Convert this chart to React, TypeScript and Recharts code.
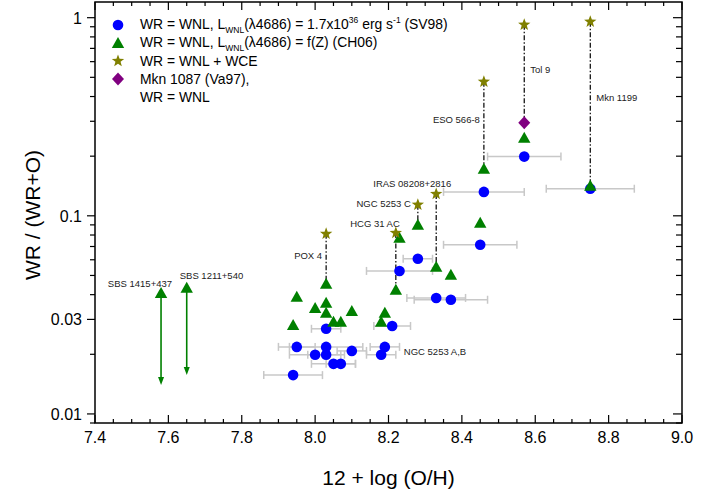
import React from 'react';
import { ScatterChart, Scatter, XAxis, YAxis, ReferenceLine } from 'recharts';

const FONT = '"Liberation Sans", Arial, Helvetica, sans-serif';

const BLUE = '#0000ff';
const GREEN = '#008000';
const OLIVE = '#808000';
const PURPLE = '#800080';
const ERR = '#c8c8c8';

// x = 12 + log(O/H), y = WR/(WR+O), err = x error
const sv98 = [
  { x: 8.03, y: 0.0269, err: 0.04 },
  { x: 7.95, y: 0.0218, err: 0.05 },
  { x: 8.03, y: 0.0218, err: 0.1 },
  { x: 8.0, y: 0.0199, err: 0.07 },
  { x: 8.03, y: 0.0199, err: 0.05 },
  { x: 8.1, y: 0.0208, err: 0.04 },
  { x: 8.19, y: 0.0218, err: 0.04 },
  { x: 8.18, y: 0.0199, err: 0.04 },
  { x: 8.05, y: 0.0179, err: 0.06 },
  { x: 8.07, y: 0.0179, err: 0.04 },
  { x: 7.94, y: 0.0157, err: 0.08 },
  { x: 8.21, y: 0.0278, err: 0.05 },
  { x: 8.45, y: 0.0714, err: 0.1 },
  { x: 8.28, y: 0.0607, err: 0.04 },
  { x: 8.23, y: 0.0527, err: 0.09 },
  { x: 8.33, y: 0.0385, err: 0.08 },
  { x: 8.37, y: 0.0377, err: 0.1 },
  { x: 8.57, y: 0.199, err: 0.1 },
  { x: 8.46, y: 0.132, err: 0.11 },
  { x: 8.75, y: 0.137, err: 0.12 },
];

const ch06 = [
  { x: 8.03, y: 0.0454 },
  { x: 7.95, y: 0.039 },
  { x: 8.03, y: 0.0364 },
  { x: 8.0, y: 0.0343 },
  { x: 8.03, y: 0.0324 },
  { x: 8.1, y: 0.0331 },
  { x: 8.05, y: 0.0292 },
  { x: 8.07, y: 0.0292 },
  { x: 7.94, y: 0.0281 },
  { x: 8.19, y: 0.0324 },
  { x: 8.18, y: 0.0292 },
  { x: 8.22, y: 0.0423 },
  { x: 8.23, y: 0.0774 },
  { x: 8.28, y: 0.0901 },
  { x: 8.33, y: 0.0553 },
  { x: 8.37, y: 0.0504 },
  { x: 8.45, y: 0.0922 },
  { x: 8.46, y: 0.173 },
  { x: 8.57, y: 0.248 },
  { x: 8.75, y: 0.142 },
];

// upper limits drawn as arrows down to `low`
const sbsLimits = [
  { name: 'SBS 1415+437', x: 7.58, y: 0.0408, low: 0.014 },
  { name: 'SBS 1211+540', x: 7.65, y: 0.0433, low: 0.0157 },
];

// WNL + WCE, linked to the WNL-only value `base`
const wce = [
  { name: 'POX 4', x: 8.03, y: 0.0811, base: 0.0454 },
  { name: 'HCG 31 AC', x: 8.22, y: 0.082, base: 0.0423 },
  { name: 'NGC 5253 C', x: 8.28, y: 0.1137, base: 0.0901 },
  { name: 'IRAS 08208+2816', x: 8.33, y: 0.129, base: 0.0553 },
  { name: 'ESO 566-8', x: 8.46, y: 0.475, base: 0.173 },
  { name: 'Tol 9', x: 8.57, y: 0.922, base: 0.295 },
  { name: 'Mkn 1199', x: 8.75, y: 0.955, base: 0.142 },
];

const va97 = [{ x: 8.57, y: 0.295 }];

const notes = [{ name: 'NGC 5253 A,B', x: 8.19, y: 0.0218 }];

const X_DOMAIN = [7.4, 9.0];
const Y_DOMAIN = [0.009, 1.2];

const xTicks = [
  7.4, 7.45, 7.5, 7.55, 7.6, 7.65, 7.7, 7.75, 7.8, 7.85, 7.9, 7.95, 8.0, 8.05, 8.1, 8.15, 8.2,
  8.25, 8.3, 8.35, 8.4, 8.45, 8.5, 8.55, 8.6, 8.65, 8.7, 8.75, 8.8, 8.85, 8.9, 8.95, 9.0,
];
const xLabelTicks = [7.4, 7.6, 7.8, 8.0, 8.2, 8.4, 8.6, 8.8, 9.0];
const yTicks = [
  0.009, 0.01, 0.02, 0.03, 0.04, 0.05, 0.06, 0.07, 0.08, 0.09, 0.1, 0.2, 0.3, 0.4, 0.5, 0.6, 0.7,
  0.8, 0.9, 1,
];
const yLabelTicks = [0.01, 0.03, 0.1, 1];

// where each annotation sits relative to its point (px)
const labelPos: Record<string, { dx: number; dy: number; anchor: string }> = {
  'SBS 1415+437': { dx: 11, dy: -6, anchor: 'end' },
  'SBS 1211+540': { dx: -7, dy: -9, anchor: 'start' },
  'POX 4': { dx: -4, dy: 25, anchor: 'end' },
  'HCG 31 AC': { dx: 4, dy: -6, anchor: 'end' },
  'NGC 5253 C': { dx: -7, dy: 2, anchor: 'end' },
  'IRAS 08208+2816': { dx: 15, dy: -7, anchor: 'end' },
  'ESO 566-8': { dx: -4, dy: 41, anchor: 'end' },
  'Tol 9': { dx: 6, dy: 48, anchor: 'start' },
  'Mkn 1199': { dx: 6, dy: 79, anchor: 'start' },
  'NGC 5253 A,B': { dx: 19, dy: 8, anchor: 'start' },
};

const annotations = [...sbsLimits, ...wce, ...notes].map(d => ({ name: d.name, x: d.x, y: d.y }));

const isIn = (arr: number[], v: number) => arr.some(t => Math.abs(t - v) < 1e-9);

const MARGIN = { top: 2, right: 40, bottom: 78, left: 95 };
const W = 722;
const H = 501;
const PW = W - MARGIN.left - MARGIN.right;
const PH = H - MARGIN.top - MARGIN.bottom;

// tick label anchors on the bottom and left edges
const bottomLabels = xLabelTicks.map(v => ({ x: v, y: Y_DOMAIN[0] }));
const leftLabels = yLabelTicks.map(v => ({ x: X_DOMAIN[0], y: v }));

const BottomLabel = ({ cx, cy, payload }: any) => (
  <text x={cx} y={cy + 20} textAnchor="middle" fontSize={16} fontFamily={FONT} fill="#000">
    {payload.x.toFixed(1)}
  </text>
);
const LeftLabel = ({ cx, cy, payload }: any) => (
  <text x={cx - 13} y={cy + 6} textAnchor="end" fontSize={16} fontFamily={FONT} fill="#000">
    {String(payload.y)}
  </text>
);

const starPoints = (cx: number, cy: number, ro: number, ri: number) => {
  const pts: string[] = [];
  for (let i = 0; i < 10; i++) {
    const r = i % 2 === 0 ? ro : ri;
    const a = -Math.PI / 2 + (i * Math.PI) / 5;
    pts.push(`${cx + r * Math.cos(a)},${cy + r * Math.sin(a)}`);
  }
  return pts.join(' ');
};

const CircleMark = ({ cx, cy }: any) => <circle cx={cx} cy={cy} r={5.3} fill={BLUE} />;
const TriMark = ({ cx, cy }: any) => (
  <polygon points={`${cx},${cy - 6} ${cx - 6.2},${cy + 5} ${cx + 6.2},${cy + 5}`} fill={GREEN} />
);
const StarMark = ({ cx, cy }: any) => <polygon points={starPoints(cx, cy, 6.5, 2.7)} fill={OLIVE} />;
const DiamondMark = ({ cx, cy }: any) => (
  <polygon points={`${cx},${cy - 6.5} ${cx + 6},${cy} ${cx},${cy + 6.5} ${cx - 6},${cy}`} fill={PURPLE} />
);

const NoteMark = ({ cx, cy, payload }: any) => {
  const p = labelPos[payload.name];
  return (
    <text x={cx + p.dx} y={cy + p.dy} textAnchor={p.anchor} fontSize={9.5} fontFamily={FONT} fill="#222">
      {payload.name}
    </text>
  );
};

const ArrowDown = (p: any) => (
  <g>
    <line x1={p.x1} y1={p.y1} x2={p.x2} y2={p.y2 - 6} stroke={GREEN} strokeWidth={1.6} />
    <polygon points={`${p.x2 - 3},${p.y2 - 8} ${p.x2 + 3},${p.y2 - 8} ${p.x2},${p.y2}`} fill={GREEN} />
  </g>
);

// horizontal error bar with end caps
const ErrShape = (p: any) => (
  <g>
    <line x1={p.x1} y1={p.y1} x2={p.x2} y2={p.y2} stroke={ERR} strokeWidth={1.5} />
    <line x1={p.x1} y1={p.y1 - 4} x2={p.x1} y2={p.y1 + 4} stroke={ERR} strokeWidth={1.5} />
    <line x1={p.x2} y1={p.y2 - 4} x2={p.x2} y2={p.y2 + 4} stroke={ERR} strokeWidth={1.5} />
  </g>
);

// frame and tick marks, laid over the chart on the same linear / log mapping
const px = (v: number) => MARGIN.left + ((v - X_DOMAIN[0]) / (X_DOMAIN[1] - X_DOMAIN[0])) * PW;
const py = (v: number) =>
  MARGIN.top +
  ((Math.log10(Y_DOMAIN[1]) - Math.log10(v)) / (Math.log10(Y_DOMAIN[1]) - Math.log10(Y_DOMAIN[0]))) * PH;

const FrameTicks = () => {
  const top = MARGIN.top;
  const bottom = MARGIN.top + PH;
  const left = MARGIN.left;
  const right = MARGIN.left + PW;
  return (
    <svg width={W} height={H} style={{ position: 'absolute', left: 0, top: 0, pointerEvents: 'none' }}>
      <g stroke="#000" strokeWidth={1.5} fill="none">
        <rect x={left} y={top} width={PW} height={PH} />
      </g>
      <g stroke="#000" strokeWidth={1.2}>
        {xTicks.map(v => {
          const len = isIn(xLabelTicks, v) ? 8 : 4;
          const x = px(v);
          return (
            <g key={`x${v}`}>
              <line x1={x} x2={x} y1={bottom} y2={bottom - len} />
              <line x1={x} x2={x} y1={top} y2={top + len} />
            </g>
          );
        })}
        {yTicks.map(v => {
          const major = isIn(yLabelTicks, v);
          const y = py(v);
          return (
            <g key={`y${v}`}>
              <line x1={left} x2={left - (major ? 8 : 5)} y1={y} y2={y} />
              <line x1={right} x2={right - (major ? 9 : 6)} y1={y} y2={y} />
            </g>
          );
        })}
      </g>
      <text x={left + PW / 2} y={485} textAnchor="middle" fontSize={21} fontFamily={FONT} fill="#000">
        12 + log (O/H)
      </text>
      <text transform="translate(40,215) rotate(-90)" textAnchor="middle" fontSize={21} fontFamily={FONT} fill="#000">
        WR / (WR+O)
      </text>
    </svg>
  );
};

const Sub = ({ children }: any) => (
  <span style={{ fontSize: 8.5, position: 'relative', top: 3.5 }}>{children}</span>
);
const Sup = ({ children }: any) => (
  <span style={{ fontSize: 8.5, position: 'relative', top: -6 }}>{children}</span>
);

const legendIcon = (kind: string) => {
  if (kind === 'circle') return <CircleMark cx={10} cy={9} />;
  if (kind === 'tri') return <TriMark cx={10} cy={9} />;
  if (kind === 'star') return <StarMark cx={10} cy={9} />;
  if (kind === 'diamond') return <DiamondMark cx={10} cy={9} />;
  return null;
};

const legendRows = [
  {
    icon: 'circle',
    text: (
      <>
        WR = WNL, L<Sub>WNL</Sub>(λ4686) = 1.7x10<Sup>36</Sup> erg s<Sup>-1</Sup> (SV98)
      </>
    ),
  },
  {
    icon: 'tri',
    text: (
      <>
        WR = WNL, L<Sub>WNL</Sub>(λ4686) = f(Z) (CH06)
      </>
    ),
  },
  { icon: 'star', text: <>WR = WNL + WCE</> },
  { icon: 'diamond', text: <>Mkn 1087 (Va97),</> },
  { icon: '', text: <>WR = WNL</> },
];

const LegendBox = () => (
  <div
    style={{
      position: 'absolute',
      left: 108,
      top: 16,
      fontFamily: FONT,
      fontSize: 13.9,
      color: '#000',
      lineHeight: '18px',
    }}
  >
    {legendRows.map((r, i) => (
      <div key={i} style={{ display: 'flex', alignItems: 'center', height: 18, whiteSpace: 'nowrap' }}>
        <svg width={20} height={18} style={{ flex: 'none' }}>
          {legendIcon(r.icon)}
        </svg>
        <span style={{ marginLeft: 12 }}>{r.text}</span>
      </div>
    ))}
  </div>
);

export default function App() {
  return (
    <div style={{ position: 'absolute', left: 0, top: 0, width: W, height: H, background: '#fff' }}>
      <ScatterChart width={W} height={H} margin={MARGIN}>
        <XAxis hide type="number" dataKey="x" domain={X_DOMAIN} />
        <YAxis hide type="number" dataKey="y" scale="log" domain={Y_DOMAIN} />
        {sv98.map((d, i) => (
          <ReferenceLine
            key={`err${i}`}
            segment={[
              { x: d.x - d.err, y: d.y },
              { x: d.x + d.err, y: d.y },
            ]}
            shape={ErrShape}
          />
        ))}
        {wce.map(s => (
          <ReferenceLine
            key={s.name}
            segment={[
              { x: s.x, y: s.y },
              { x: s.x, y: s.base },
            ]}
            stroke="#000"
            strokeWidth={1.2}
            strokeDasharray="5 2 1.5 2"
          />
        ))}
        {sbsLimits.map(s => (
          <ReferenceLine
            key={s.name}
            segment={[
              { x: s.x, y: s.y },
              { x: s.x, y: s.low },
            ]}
            shape={ArrowDown}
          />
        ))}
        <Scatter data={bottomLabels} shape={BottomLabel} isAnimationActive={false} />
        <Scatter data={leftLabels} shape={LeftLabel} isAnimationActive={false} />
        <Scatter data={sv98} shape={CircleMark} isAnimationActive={false} />
        <Scatter data={ch06} shape={TriMark} isAnimationActive={false} />
        <Scatter data={sbsLimits} shape={TriMark} isAnimationActive={false} />
        <Scatter data={wce} shape={StarMark} isAnimationActive={false} />
        <Scatter data={va97} shape={DiamondMark} isAnimationActive={false} />
        <Scatter data={annotations} shape={NoteMark} isAnimationActive={false} />
      </ScatterChart>
      <FrameTicks />
      <LegendBox />
    </div>
  );
}
